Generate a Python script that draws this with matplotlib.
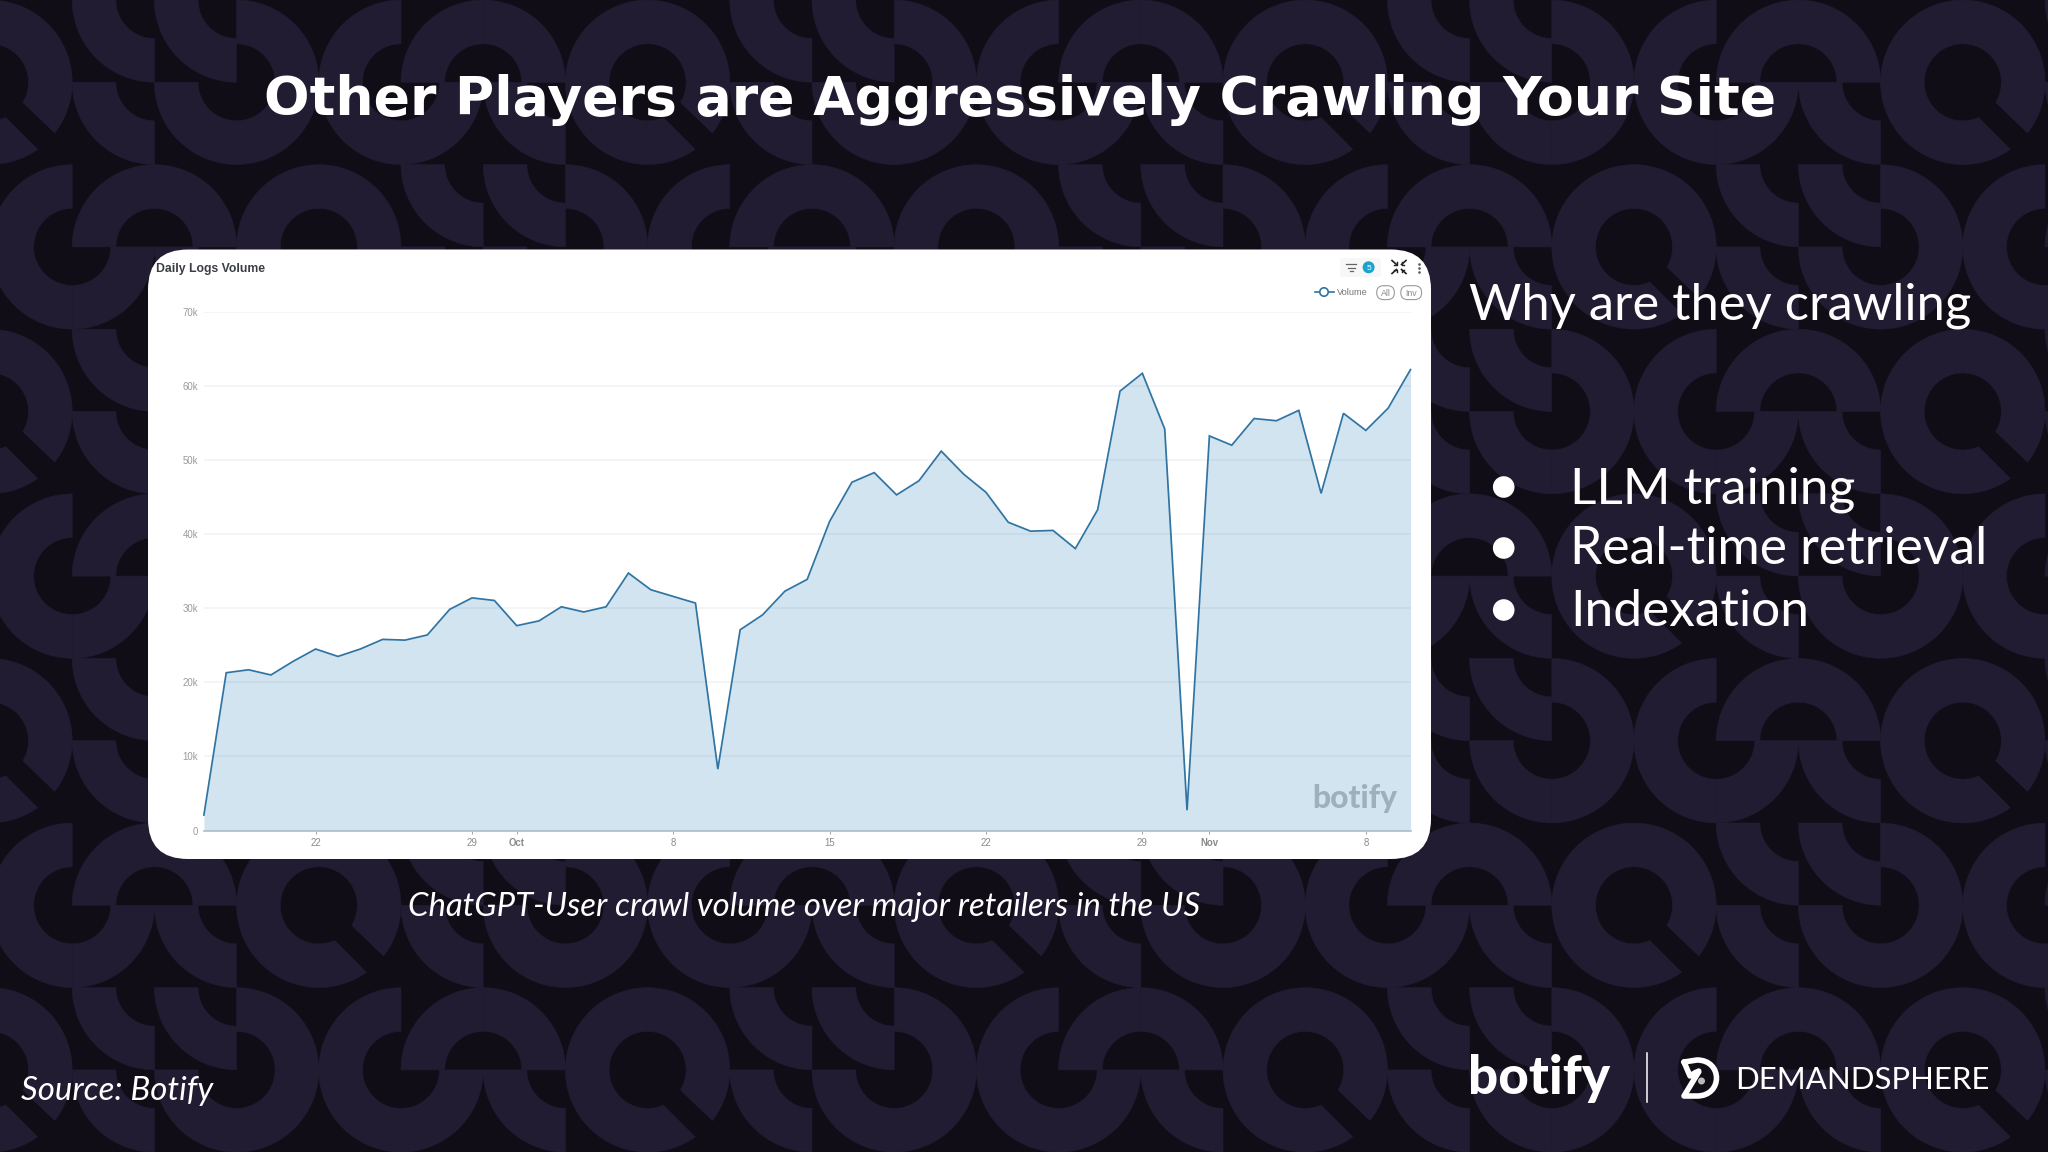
import numpy as np
import pandas as pd
import matplotlib
matplotlib.use("Agg")
import matplotlib.pyplot as plt
from matplotlib.patches import FancyBboxPatch, PathPatch, Circle
from matplotlib.path import Path
from matplotlib.collections import PolyCollection

# ---------- data ----------
dates = pd.date_range("2024-09-17", "2024-11-10", freq="D")
volume = [2100, 21300, 21700, 21000, 22850, 24500, 23500, 24500, 25800, 25700,
          26400, 29850, 31400, 31050, 27650, 28300, 30200, 29500, 30200, 34750,
          32500, 31600, 30700, 8300, 27100, 29100, 32300, 33900, 41700, 47000,
          48300, 45300, 47200, 51200, 48100, 45650, 41600, 40400, 40500, 38050,
          43300, 59300, 61700, 54200, 2750, 53250, 52000, 55600, 55300, 56700,
          45500, 56300, 54000, 57000, 62200]
y_ticks = [0, 10000, 20000, 30000, 40000, 50000, 60000, 70000]
y_tick_labels = ["0", "10k", "20k", "30k", "40k", "50k", "60k", "70k"]
x_ticks = ["2024-09-22", "2024-09-29", "2024-10-01", "2024-10-08", "2024-10-15",
           "2024-10-22", "2024-10-29", "2024-11-01", "2024-11-08"]
x_tick_labels = ["22", "29", "Oct", "8", "15", "22", "29", "Nov", "8"]
bullets = ["LLM training", "Real-time retrieval", "Indexation"]

# background pattern: corner of each cell that holds the ring's centre
pattern_even = ["BL", "TR", "TR", "BL", "BR", "BR", "BL", "BR"]
pattern_odd = ["TL", "TR", "TR", "TL", "TR", "TL", "TR", "TR"]

BG = "#100d17"
RING = "#211c32"
W, H = 2048, 1152
fig = plt.figure(figsize=(W / 100, H / 100), dpi=100, facecolor=BG)


def px_axes(z):
    a = fig.add_axes([0, 0, 1, 1], zorder=z)
    a.set_xlim(0, W)
    a.set_ylim(H, 0)
    a.axis("off")
    a.patch.set_alpha(0)
    return a


bg = px_axes(0)
ov = px_axes(2)

# ---------- background ----------
CW, CH, X0 = 82.2, 82.3, -10.0
R_OUT, R_IN = 82.2, 38.5
t = np.radians(np.linspace(0, 90, 40))
polys, tails = [], []
for r in range(14):
    shift = 4 if (r // 2) % 2 else 0
    base = pattern_odd if r % 2 else pattern_even
    for k in range(26):
        code = base[(k - shift) % 8]
        x, y = X0 + k * CW, r * CH
        cx = x + CW if code[1] == "R" else x
        cy = y + CH if code[0] == "B" else y
        dx = -1 if code[1] == "R" else 1
        dy = -1 if code[0] == "B" else 1
        outer = np.c_[cx + dx * R_OUT * np.cos(t), cy + dy * R_OUT * np.sin(t)]
        inner = np.c_[cx + dx * R_IN * np.cos(t), cy + dy * R_IN * np.sin(t)][::-1]
        polys.append(np.vstack([outer, inner]))
        if r % 2 and (k - shift) % 8 == 0:
            tails.append(np.array([[cx + 24, cy + 12], [cx + 72, cy + 58],
                                   [cx + 55, cy + 74], [cx + 11, cy + 30]]))
bg.add_collection(PolyCollection(polys, facecolors=RING, edgecolors=RING, linewidths=0.4, zorder=1))
bg.add_collection(PolyCollection(tails, facecolors=BG, edgecolors="none", zorder=2))

# ---------- card ----------
CARD = (148, 249.5, 1431, 859)
bg.add_patch(FancyBboxPatch((CARD[0] + 40, CARD[1] + 40), CARD[2] - CARD[0] - 80, CARD[3] - CARD[1] - 80,
                            boxstyle="round,pad=40,rounding_size=40", fc="white", ec="none", zorder=5))

# ---------- chart ----------
AX_L, AX_R, AX_T, AX_B = 203.9, 1410.5, 311.8, 830.6
ax = fig.add_axes([AX_L / W, 1 - AX_B / H, (AX_R - AX_L) / W, (AX_B - AX_T) / H], zorder=1)
ax.patch.set_alpha(0)
ax.set_xlim(dates[0], dates[-1])
ax.set_ylim(0, 70000)
ax.fill_between(dates, volume, 0, color="#2a80b5", alpha=0.21, lw=0, zorder=2)
ax.plot(dates, volume, color="#2f74a3", lw=1.25, solid_joinstyle="miter", zorder=3, clip_on=False)
for s in ["top", "left", "right"]:
    ax.spines[s].set_visible(False)
ax.spines["bottom"].set_color("#aebcc7")
ax.spines["bottom"].set_linewidth(1.2)
ax.set_yticks(y_ticks)
ax.set_yticklabels(y_tick_labels, fontsize=6.9, color="#9a9a9a", family="Liberation Sans")
ax.tick_params(axis="y", length=0, pad=4)
ax.grid(axis="y", color="#f1f2f5", lw=1.2, zorder=1)
ax.set_axisbelow(True)
ax.set_xticks(pd.to_datetime(x_ticks))
ax.set_xticklabels(x_tick_labels, fontsize=6.9, color="#8a8a8a", family="Liberation Sans")
for lab in ax.get_xticklabels():
    if lab.get_text() in ("Oct", "Nov"):
        lab.set_fontweight("bold")
ax.tick_params(axis="x", length=2.5, width=0.7, color="#9aa5ad", pad=3)

# ---------- text ----------
renderer = fig.canvas.get_renderer()


def fit_text(a, x, y, s, width, size, **kw):
    tx = a.text(x, y, s, fontsize=size, va="baseline", ha="left", **kw)
    w = tx.get_window_extent(renderer).width
    tx.set_fontsize(size * width / w)
    return tx


fit_text(ov, 264, 115, "Other Players are Aggressively Crawling Your Site", 1514, 37,
         color="white", family="DejaVu Sans", fontweight="bold")
fit_text(ov, 1469, 319.5, "Why are they crawling", 502, 32, color="white", family="Lato")
bullet_y = [487, 548, 610]
base_y = [503.2, 564.2, 625.5]
widths = [285, 418, 239]
for lab, by, ty, wd in zip(bullets, bullet_y, base_y, widths):
    ov.add_patch(Circle((1503.7, by), 10.8, fc="white", ec="none"))
    fit_text(ov, 1570, ty, lab, wd, 32, color="white", family="Lato")
fit_text(ov, 407.5, 915.5, "ChatGPT-User crawl volume over major retailers in the US", 791, 20,
         color="white", family="Lato", style="italic")
fit_text(ov, 21, 1099.5, "Source: Botify", 192, 20, color="white", family="Lato", style="italic")
fit_text(ov, 155.5, 272, "Daily Logs Volume", 109, 9, color="#3a3d42", family="Liberation Sans", fontweight="bold")

# logos
fit_text(ov, 1468, 1094, "botify", 142, 40, color="white", family="Lato", fontweight="black")
ov.plot([1646.7, 1646.7], [1053, 1102], color="white", lw=1.1)
fit_text(ov, 1735, 1089, "DEMANDSPHERE", 253, 22, color="white", family="Lato")
d_verts = [(1684, 1062), (1697, 1060), (1723, 1060), (1723, 1096), (1697, 1096), (1684, 1096),
           (1698, 1073), (1702, 1068), (1690, 1076), (1684, 1062)]
d_codes = [Path.MOVETO, Path.LINETO, Path.CURVE4, Path.CURVE4, Path.CURVE4, Path.LINETO,
           Path.LINETO, Path.CURVE3, Path.CURVE3, Path.LINETO]
ov.add_patch(PathPatch(Path(d_verts, d_codes), fc="none", ec="white", lw=4.0, capstyle="round", joinstyle="round"))
ov.add_patch(Circle((1701.5, 1081), 3.5, fc="#b8b8b8", ec="none"))

# chart watermark and controls
fit_text(ov, 1312, 808, "botify", 85, 24, color="#9eb0bb", family="Lato", fontweight="black")
ov.plot([1315, 1334], [292, 292], color="#2f74a3", lw=1.2)
ov.add_patch(Circle((1324, 292), 4.2, fc="white", ec="#2f74a3", lw=1.2, zorder=3))
fit_text(ov, 1337, 295, "Volume", 31, 7, color="#777777", family="Liberation Sans")
for (x0, x1, lab) in [(1376.6, 1394.5, "All"), (1400.7, 1421.7, "Inv")]:
    ov.add_patch(FancyBboxPatch((x0 + 7, 285.7 + 6.9), x1 - x0 - 14, 0.1, boxstyle="round,pad=6.9,rounding_size=6.9",
                                fc="white", ec="#9a9a9a", lw=0.8))
    ov.text((x0 + x1) / 2, 296, lab, fontsize=6.3, ha="center", va="baseline", color="#8a8a8a", family="Liberation Sans")
ov.add_patch(FancyBboxPatch((1343, 261), 35, 13, boxstyle="round,pad=3,rounding_size=3", fc="#f7f7f8", ec="none"))
for yy, a0, a1 in [(264, 1346, 1356), (267.5, 1347.5, 1354.5), (271, 1349.5, 1352.5)]:
    ov.plot([a0, a1], [yy, yy], color="#666666", lw=0.9)
ov.add_patch(Circle((1368.6, 267.3), 6, fc="#1aa3cc", ec="none"))
ov.text(1368.6, 270.3, "5", fontsize=6, ha="center", va="baseline", color="white", family="Liberation Sans")
for sx, sy in [(-1, -1), (1, -1), (-1, 1), (1, 1)]:
    cx, cy = 1399, 267
    ov.plot([cx + sx * 7, cx + sx * 2.5], [cy + sy * 6.5, cy + sy * 2.5], color="#222222", lw=1.2)
    ov.plot([cx + sx * 2.5, cx + sx * 2.5, cx + sx * 5], [cy + sy * 5, cy + sy * 2.5, cy + sy * 2.5], color="#222222", lw=1.0)
ov.scatter([1419, 1419, 1419], [263.7, 267.8, 272], s=3.5, color="#555555", linewidths=0)

fig.savefig("out.png", dpi=100, facecolor=BG)
